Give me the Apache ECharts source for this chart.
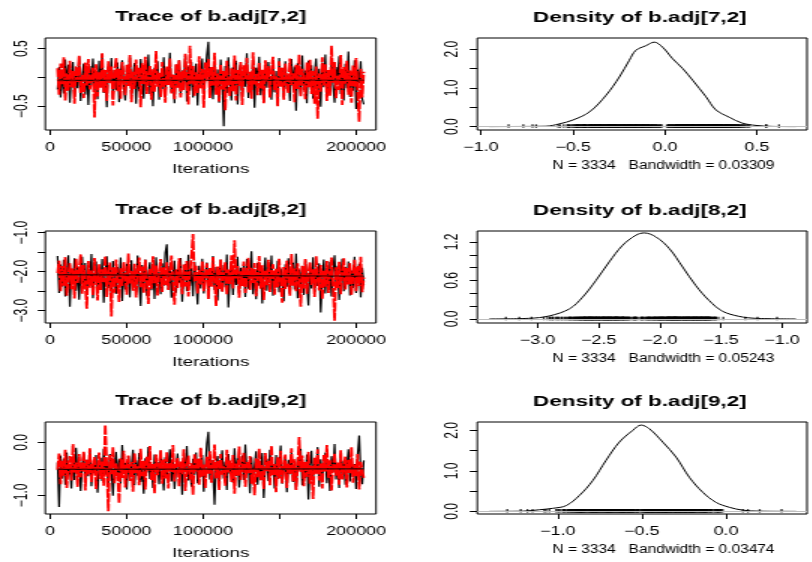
<!DOCTYPE html>
<html>
<head>
<meta charset="utf-8">
<script src="https://cdn.jsdelivr.net/npm/echarts@6/dist/echarts.min.js"></script>
<style>
  html, body { margin: 0; padding: 0; background: #fff; overflow: hidden; }
  #wrap { width: 812px; height: 562px; overflow: hidden; }
  /* the plot is laid out on a narrower canvas and stretched sideways */
  #chart { width: 541.333px; height: 562px; transform: scaleX(1.5); transform-origin: 0 0; }
</style>
</head>
<body>
<div id="wrap"><div id="chart"></div></div>
<script>
// ---- MCMC output: thinned draws of two chains, iterations 5000..205000 ----
const iterStart = 5000;
const iterEnd = 205000;

const black7 = [
  -0.21, 0.18, -0.35, 0.12, -0.28, 0.31, -0.09, 0.22, -0.44, 0.06,
  0.27, -0.33, 0.10, -0.19, 0.36, -0.41, 0.03, 0.24, -0.30, 0.15,
  -0.48, 0.20, -0.13, 0.33, -0.25, 0.08, -0.38, 0.29, -0.16, 0.41,
  -0.27, 0.05, -0.52, 0.19, -0.07, 0.34, -0.36, 0.13, -0.22, 0.26,
  -0.43, 0.09, 0.30, -0.18, -0.40, 0.21, -0.11, 0.37, -0.32, 0.02,
  0.25, -0.46, 0.14, -0.24, 0.32, -0.05, -0.37, 0.23, -0.15, 0.40,
  -0.29, 0.11, -0.50, 0.17, -0.02, 0.28, -0.39, 0.07, -0.20, 0.35,
  -0.34, 0.16, -0.12, 0.43, -0.26, 0.04, -0.45, 0.22, -0.17, 0.30,
  -0.31, 0.12, -0.08, 0.38, -0.42, 0.19, -0.23, 0.27, -0.35, 0.06,
  0.24, -0.49, 0.15, -0.14, 0.33, -0.28, 0.01, 0.39, 0.62, -0.30,
  0.10, -0.38, 0.26, -0.19, 0.14, -0.44, 0.31, -0.06, -0.85, 0.20,
  -0.27, 0.35, -0.10, -0.40, 0.18, -0.21, 0.29, -0.47, 0.09, 0.24,
  -0.33, 0.13, -0.16, 0.42, -0.36, 0.03, -0.25, 0.30, -0.53, 0.17,
  -0.04, 0.36, -0.31, 0.08, -0.43, 0.21, -0.18, 0.27, -0.12, -0.39,
  0.23, -0.26, 0.11, -0.48, 0.34, -0.09, 0.16, -0.35, 0.28, -0.20,
  0.05, -0.41, 0.32, -0.15, 0.19, -0.58, 0.25, -0.03, -0.30, 0.38,
  -0.22, 0.12, -0.45, 0.29, -0.11, 0.21, -0.37, 0.07, 0.33, -0.28,
  0.15, -0.51, 0.26, -0.17, 0.40, -0.32, 0.02, -0.24, 0.31, -0.13,
  -0.44, 0.18, -0.06, 0.37, -0.29, 0.10, -0.40, 0.24, -0.19, 0.45,
  -0.34, 0.08, -0.23, 0.30, -0.55, 0.14, -0.10, 0.28, -0.38, -0.47];
const red7 = [
  0.16, -0.30, 0.24, -0.12, 0.35, -0.40, 0.07, -0.23, 0.29, -0.17,
  0.11, -0.46, 0.20, -0.08, 0.38, -0.27, 0.04, -0.36, 0.26, -0.14,
  0.32, -0.21, -0.05, 0.17, -0.70, 0.23, -0.33, 0.09, -0.18, 0.42,
  -0.26, 0.13, -0.41, 0.28, -0.10, 0.19, -0.49, 0.06, 0.34, -0.24,
  0.15, -0.37, 0.27, -0.02, -0.31, 0.22, -0.15, 0.39, -0.43, 0.10,
  -0.20, 0.31, -0.07, 0.18, -0.52, 0.25, -0.12, 0.36, -0.29, 0.03,
  0.21, -0.39, 0.14, -0.25, 0.46, -0.16, 0.08, -0.34, 0.27, -0.09,
  -0.44, 0.19, -0.13, 0.33, -0.28, 0.05, -0.38, 0.24, -0.18, 0.30,
  -0.35, 0.12, -0.22, 0.41, -0.06, -0.47, 0.55, -0.11, 0.20, -0.32,
  0.09, -0.27, 0.37, -0.19, 0.15, -0.53, 0.26, -0.04, 0.32, -0.36,
  0.18, -0.14, 0.43, -0.30, 0.07, -0.42, 0.23, -0.21, 0.11, -0.57,
  0.29, -0.08, -0.33, 0.16, -0.24, 0.38, -0.40, 0.13, -0.15, 0.27,
  -0.48, 0.21, -0.03, 0.34, -0.26, 0.10, -0.37, 0.44, -0.12, 0.06,
  -0.31, 0.25, -0.19, 0.14, -0.45, 0.30, -0.07, 0.20, -0.35, 0.12,
  0.36, -0.23, 0.02, -0.50, 0.28, -0.16, 0.17, -0.39, 0.24, -0.10,
  -0.28, 0.33, -0.13, 0.08, -0.43, 0.22, -0.20, 0.40, -0.34, 0.15,
  -0.05, -0.38, 0.26, -0.17, 0.31, -0.29, 0.11, -0.46, 0.19, -0.72,
  0.07, -0.25, 0.35, -0.14, 0.23, -0.41, 0.13, -0.32, 0.55, -0.09,
  0.27, -0.36, 0.04, -0.22, 0.39, -0.48, 0.18, -0.11, 0.29, -0.30,
  0.12, -0.44, 0.21, -0.16, 0.34, -0.27, -0.77, 0.16, -0.35, 0.10];

const black8 = [
  -1.60, -2.55, -1.82, -2.38, -1.70, -2.64, -2.02, -1.58, -2.90, -1.93,
  -2.31, -1.66, -2.49, -1.87, -2.72, -2.08, -1.62, -2.44, -1.78, -2.59,
  -1.95, -2.27, -1.55, -2.68, -2.12, -1.74, -2.52, -1.90, -2.35, -1.68,
  -2.80, -2.00, -1.61, -2.42, -1.84, -2.61, -1.73, -2.20, -2.57, -1.88,
  -2.33, -1.64, -2.75, -1.97, -2.46, -1.80, -2.14, -2.66, -1.71, -2.39,
  -1.92, -2.53, -1.59, -2.25, -2.88, -1.83, -2.41, -1.69, -2.62, -2.05,
  -1.76, -2.48, -1.89, -2.70, -1.63, -2.30, -2.01, -2.58, -1.79, -2.36,
  -1.52, -1.30, -2.45, -1.86, -2.67, -2.10, -1.72, -2.54, -1.94, -2.29,
  -1.65, -2.77, -2.03, -1.81, -2.50, -1.57, -2.37, -1.91, -2.63, -1.75,
  -2.22, -2.84, -1.85, -2.43, -1.67, -2.56, -2.07, -1.77, -2.69, -1.96,
  -2.32, -1.60, -2.47, -1.88, -2.74, -2.04, -1.70, -2.51, -1.83, -2.40,
  -1.56, -2.92, -2.15, -1.73, -2.60, -1.98, -2.34, -1.62, -2.55, -1.90,
  -2.26, -1.80, -2.65, -1.68, -2.44, -2.09, -1.48, -2.58, -1.93, -2.71,
  -1.78, -2.36, -1.87, -2.82, -2.06, -1.64, -2.49, -1.84, -2.30, -1.59,
  -2.62, -1.99, -2.41, -1.72, -2.53, -1.92, -2.18, -2.76, -1.81, -2.39,
  -1.66, -2.57, -2.02, -1.77, -2.46, -1.54, -2.68, -1.95, -2.33, -1.86,
  -2.60, -1.71, -2.28, -2.87, -1.89, -2.43, -1.63, -2.52, -1.94, -2.37,
  -1.79, -3.05, -2.21, -1.69, -2.56, -1.91, -2.45, -1.75, -2.64, -2.00,
  -1.58, -2.40, -1.85, -2.73, -2.11, -1.67, -2.50, -1.88, -2.31, -1.74,
  -2.61, -1.97, -2.42, -1.62, -2.55, -2.05, -1.80, -2.66, -1.90, -2.35];
const red8 = [
  -2.04, -1.72, -2.50, -1.86, -2.36, -1.63, -2.62, -2.10, -1.78, -2.45,
  -1.92, -2.69, -1.67, -2.29, -2.00, -1.56, -2.57, -1.83, -2.34, -2.95,
  -1.73, -2.41, -1.97, -2.60, -1.65, -2.21, -2.74, -1.81, -2.47, -1.94,
  -2.27, -1.60, -2.65, -2.06, -1.77, -3.15, -1.88, -2.54, -1.69, -2.20,
  -2.78, -1.90, -2.37, -1.75, -2.13, -2.59, -1.54, -2.31, -1.98, -2.49,
  -1.80, -2.66, -2.02, -1.64, -2.40, -1.87, -2.55, -1.70, -2.24, -2.83,
  -1.93, -2.44, -1.61, -2.30, -1.84, -2.61, -1.99, -1.68, -2.52, -1.89,
  -2.35, -1.76, -2.47, -2.09, -1.59, -2.28, -2.85, -1.95, -2.42, -1.66,
  -2.16, -2.58, -1.82, -2.38, -1.71, -2.64, -2.01, -1.62, -1.04, -2.26,
  -1.85, -2.56, -1.96, -2.33, -1.73, -2.50, -2.08, -1.79, -2.70, -1.91,
  -2.39, -1.63, -2.22, -2.88, -1.87, -2.46, -1.69, -2.53, -2.03, -1.76,
  -2.60, -1.95, -2.32, -1.58, -2.43, -1.20, -2.19, -1.86, -2.67, -1.99,
  -2.37, -1.74, -2.55, -2.05, -1.65, -2.48, -1.90, -2.29, -1.78, -2.63,
  -2.11, -1.60, -2.44, -1.84, -2.73, -1.97, -2.35, -1.70, -2.52, -2.00,
  -1.81, -2.59, -1.93, -2.40, -1.67, -2.25, -2.80, -1.88, -2.45, -1.72,
  -2.14, -2.62, -1.55, -2.36, -1.92, -2.51, -1.79, -2.27, -2.90, -1.85,
  -2.43, -1.68, -2.57, -2.04, -1.76, -2.34, -1.94, -2.65, -1.61, -2.20,
  -2.48, -1.83, -2.71, -1.98, -2.39, -1.73, -2.55, -2.07, -1.64, -2.30,
  -3.26, -1.89, -2.42, -1.75, -2.58, -2.01, -1.66, -2.46, -1.91, -2.33,
  -1.78, -2.61, -2.09, -1.70, -2.50, -1.86, -2.37, -1.62, -2.53, -2.15];

const black9 = [
  -0.38, -1.22, -0.25, -0.68, -0.31, -0.80, -0.19, -0.62, -0.41, -0.87,
  -0.27, -0.71, -0.10, -0.56, -0.35, -0.92, -0.44, -0.21, -0.76, -0.33,
  -0.64, -0.15, -0.83, -0.40, -0.58, -0.24, -0.95, -0.47, -0.29, -0.73,
  -0.12, -0.61, -0.36, -0.85, -0.22, -0.54, -1.01, -0.43, -0.18, -0.67,
  -0.32, -0.78, -0.05, -0.59, -0.39, -0.89, -0.26, -0.70, -0.46, -0.14,
  -0.81, -0.34, -0.63, -0.20, -0.75, -0.48, -0.97, -0.30, -0.57, -0.09,
  -0.69, -0.42, -0.86, -0.23, -0.60, -0.37, -0.79, -0.16, -0.52, -0.91,
  -0.28, -0.66, -0.44, -0.13, -0.74, -0.35, -0.88, -0.50, -0.21, -0.62,
  -0.40, -0.99, -0.27, -0.56, -0.07, -0.72, -0.45, -0.84, -0.31, -0.61,
  -0.19, -0.77, -0.38, -0.65, -0.24, -0.93, -0.49, -0.02, 0.20, -0.70,
  -0.33, -0.58, -1.18, -0.41, -0.26, -0.82, -0.47, -0.15, -0.68, -0.36,
  -0.90, -0.22, -0.59, -0.43, -0.76, -0.11, -0.64, -0.30, -0.85, -0.52,
  -0.25, -0.71, -0.04, -0.57, -0.39, -0.96, -0.28, -0.66, -0.45, -0.17,
  -0.80, -0.35, -0.62, -0.20, -1.05, -0.48, -0.31, -0.73, -0.14, -0.55,
  -0.42, -0.87, -0.24, -0.69, -0.37, -0.06, -0.78, -0.50, -0.27, -0.94,
  -0.33, -0.60, -0.18, -0.75, -0.46, -0.89, -0.29, -0.53, -0.12, -0.81,
  -0.40, -0.67, -0.23, -1.08, -0.44, -0.16, -0.72, -0.36, -0.58, -0.09,
  -0.84, -0.32, -0.63, -0.47, -0.19, -0.77, -0.39, -0.92, -0.26, -0.56,
  -0.03, -0.70, -0.43, -0.86, -0.21, -0.61, -0.35, -0.80, -0.48, -0.13,
  -0.74, -0.30, -0.65, -0.41, -0.88, -0.24, 0.13, -0.57, -0.79, -0.34];
const red9 = [
  -0.52, -0.21, -0.79, -0.35, -0.63, -0.14, -0.86, -0.42, -0.26, -0.72,
  -0.03, -0.57, -0.38, -0.84, -0.22, -0.66, -0.46, -0.17, -0.91, -0.33,
  -0.61, -0.11, -0.75, -0.44, -0.28, -0.88, -0.50, -0.19, -0.69, -0.36,
  -0.82, 0.33, -0.47, -1.30, -0.24, -0.60, -0.09, -0.77, -0.40, -0.55,
  -1.15, -0.30, -0.67, -0.16, -0.85, -0.43, -0.25, -0.73, -0.37, -0.93,
  -0.20, -0.58, -0.45, -0.81, -0.12, -0.64, -0.34, -0.89, -0.27, -0.53,
  -0.07, -0.71, -0.41, -0.96, -0.23, -0.62, -0.48, -0.15, -0.78, -0.32,
  -0.68, -0.18, -0.87, -0.39, -0.56, -0.05, -0.74, -0.44, -0.29, -0.83,
  -0.36, -0.60, -0.13, -0.92, -0.47, -0.25, -0.70, -0.38, -0.99, -0.21,
  -0.55, -0.31, -0.80, -0.10, -0.65, -0.42, -0.86, -0.27, -0.59, -0.17,
  -0.76, -0.49, -0.04, -0.68, -0.35, -0.90, -0.22, -0.61, -0.45, -0.82,
  -0.14, -0.57, -0.33, -0.75, -0.24, -0.97, -0.40, -0.63, -0.08, -0.71,
  -0.46, -0.19, -0.84, -0.37, -0.58, -0.26, -0.79, -0.51, -1.00, -0.30,
  -0.66, -0.12, -0.73, -0.43, -0.88, -0.20, -0.54, -0.35, -0.81, -0.06,
  -0.62, -0.41, -0.94, -0.28, -0.69, -0.16, -0.77, -0.48, -0.23, -0.86,
  -0.39, -0.60, -0.11, -0.74, -0.32, -0.90, -0.47, 0.10, -0.56, -0.25,
  -0.83, -0.36, -0.65, -0.18, -0.78, -0.44, -1.07, -0.29, -0.59, -0.13,
  -0.72, -0.40, -0.87, -0.24, -0.55, -0.05, -0.67, -0.34, -0.91, -0.46,
  -0.20, -0.63, -0.38, -0.80, -0.15, -0.70, -0.49, -0.27, -0.85, -0.33,
  -0.58, -0.09, -0.76, -0.42, -0.64, -0.22, -0.89, -0.37, -0.53, -0.68];

// smoothed running level of each chain at the first and last iteration
const smoothBlack7 = [-0.05, -0.05];
const smoothRed7 = [-0.06, -0.05];
const smoothBlack8 = [-2.08, -2.12];
const smoothRed8 = [-2.09, -2.13];
const smoothBlack9 = [-0.51, -0.50];
const smoothRed9 = [-0.50, -0.51];

// ---- kernel density estimates (x grid and density) ----
const dens7X = [-0.955, -0.80, -0.647, -0.574, -0.50, -0.41, -0.32, -0.248, -0.194, -0.158, -0.103, -0.058, -0.013, 0.042, 0.096, 0.15, 0.223, 0.277, 0.35, 0.42, 0.495, 0.585, 0.712];
const dens7Y = [0, 0.003, 0.01, 0.07, 0.17, 0.38, 0.81, 1.28, 1.71, 1.97, 2.09, 2.18, 2.05, 1.75, 1.50, 1.20, 0.77, 0.43, 0.24, 0.09, 0.03, 0.005, 0];
const dens8X = [-3.396, -3.07, -2.905, -2.74, -2.632, -2.523, -2.414, -2.304, -2.196, -2.128, -2.032, -1.923, -1.813, -1.705, -1.596, -1.486, -1.35, -1.214, -0.886];
const dens8Y = [0, 0.01, 0.047, 0.157, 0.34, 0.60, 0.89, 1.15, 1.306, 1.342, 1.28, 1.10, 0.81, 0.52, 0.287, 0.12, 0.04, 0.01, 0];
const dens9X = [-1.406, -1.208, -1.109, -1.03, -0.951, -0.872, -0.792, -0.713, -0.634, -0.554, -0.505, -0.456, -0.376, -0.297, -0.218, -0.138, -0.059, 0.02, 0.099, 0.198, 0.416];
const dens9Y = [0, 0.005, 0.04, 0.075, 0.14, 0.39, 0.76, 1.26, 1.71, 2.0, 2.13, 2.04, 1.71, 1.34, 0.84, 0.47, 0.22, 0.10, 0.03, 0.005, 0];

// ---- axis ticks and labels ----
const traceXTicks = [0, 50000, 100000, 150000, 200000];
const traceXLabels = [0, 50000, 100000, 200000];
const trace7YTicks = [-0.5, 0, 0.5];
const trace7YLabels = [-0.5, 0.5];
const trace8YTicks = [-3, -2.5, -2, -1.5, -1];
const trace8YLabels = [-3, -2, -1];
const trace9YTicks = [-1, -0.5, 0];
const trace9YLabels = [-1, 0];
const dens7XTicks = [-1, -0.5, 0, 0.5];
const dens8XTicks = [-3, -2.5, -2, -1.5, -1];
const dens9XTicks = [-1, -0.5, 0];
const dens7YTicks = [0, 0.5, 1, 1.5, 2];
const dens7YLabels = [0, 1, 2];
const dens8YTicks = [0, 0.2, 0.4, 0.6, 0.8, 1.0, 1.2];
const dens8YLabels = [0, 0.6, 1.2];
const dens9YTicks = [0, 0.5, 1, 1.5, 2];
const dens9YLabels = [0, 1, 2];

const sampleSize = 3334;
const bandwidths = ['0.03309', '0.05243', '0.03474'];
const paramNames = ['b.adj[7,2]', 'b.adj[8,2]', 'b.adj[9,2]'];

// ---- layout (in the unstretched coordinate frame) ----
const FONT = '"Liberation Sans", Arial, Helvetica, sans-serif';
const SX = 1.5;
const rowTops = [38, 231, 422];
const boxH = 92;
const traceLeft = 30.2, traceW = 220.5;
const densLeft = 318.2, densW = 219.8;

const panels = [
  { black: black7, red: red7, smB: smoothBlack7, smR: smoothRed7,
    yMin: -0.916, yMax: 0.687, yTicks: trace7YTicks, yLabels: trace7YLabels,
    dX: dens7X, dY: dens7Y, dxMin: -1.02, dxMax: 0.772, dxTicks: dens7XTicks,
    dyMin: -0.088, dyMax: 2.287, dyTicks: dens7YTicks, dyLabels: dens7YLabels },
  { black: black8, red: red8, smB: smoothBlack8, smR: smoothRed8,
    yMin: -3.317, yMax: -0.96, yTicks: trace8YTicks, yLabels: trace8YLabels,
    dX: dens8X, dY: dens8Y, dxMin: -3.494, dxMax: -0.795, dxTicks: dens8XTicks,
    dyMin: -0.063, dyMax: 1.372, dyTicks: dens8YTicks, dyLabels: dens8YLabels },
  { black: black9, red: red9, smB: smoothBlack9, smR: smoothRed9,
    yMin: -1.353, yMax: 0.385, yTicks: trace9YTicks, yLabels: trace9YLabels,
    dX: dens9X, dY: dens9Y, dxMin: -1.478, dxMax: 0.481, dxTicks: dens9XTicks,
    dyMin: -0.065, dyMax: 2.206, dyTicks: dens9YTicks, dyLabels: dens9YLabels }
];

function fmt1(v) {
  const s = Math.abs(v).toFixed(1);
  return v < 0 ? '\u2212' + s : s;
}
function iterPairs(vals) {
  const step = (iterEnd - iterStart) / (vals.length - 1);
  return vals.map((v, i) => [iterStart + i * step, v]);
}

const tickStyle = { lineStyle: { color: '#000', width: 1 } };
const labelBase = { color: '#000', fontFamily: FONT, fontSize: 12 };
const noLine = { show: false, onZero: false };

const grids = [], xAxes = [], yAxes = [], series = [], graphic = [];

panels.forEach((p, r) => {
  const top = rowTops[r];
  // trace panel
  const gt = grids.length;
  grids.push({ left: traceLeft, top: top, width: traceW, height: boxH, show: true,
    borderColor: '#000', borderWidth: 1, backgroundColor: 'transparent', containLabel: false });
  xAxes.push({ gridIndex: gt, type: 'value', min: -3000, max: 213000,
    axisLine: noLine, splitLine: { show: false },
    axisTick: Object.assign({ show: true, length: 5, customValues: traceXTicks }, tickStyle),
    axisLabel: Object.assign({ customValues: traceXLabels, margin: 12, formatter: v => String(v) }, labelBase) });
  yAxes.push({ gridIndex: gt, type: 'value', min: p.yMin, max: p.yMax,
    axisLine: noLine, splitLine: { show: false },
    axisTick: Object.assign({ show: true, length: 5, customValues: p.yTicks }, tickStyle),
    axisLabel: Object.assign({ customValues: p.yLabels, rotate: 90, margin: 9.5, formatter: fmt1 }, labelBase) });
  series.push({ type: 'line', xAxisIndex: gt, yAxisIndex: gt, data: iterPairs(p.black),
    symbol: 'none', lineStyle: { color: '#000', width: 1.2 }, z: 2 });
  series.push({ type: 'line', xAxisIndex: gt, yAxisIndex: gt, data: iterPairs(p.red),
    symbol: 'none', lineStyle: { color: '#ff0000', width: 1.8, type: [9, 1.5] }, z: 3 });
  series.push({ type: 'line', xAxisIndex: gt, yAxisIndex: gt, data: iterPairs(p.smB),
    symbol: 'none', lineStyle: { color: '#000', width: 1 }, z: 4 });
  series.push({ type: 'line', xAxisIndex: gt, yAxisIndex: gt, data: iterPairs(p.smR),
    symbol: 'none', lineStyle: { color: '#aa0000', width: 1, type: [4, 4] }, z: 5 });

  // density panel
  const gd = grids.length;
  grids.push({ left: densLeft, top: top, width: densW, height: boxH, show: true,
    borderColor: '#000', borderWidth: 1, backgroundColor: 'transparent', containLabel: false });
  xAxes.push({ gridIndex: gd, type: 'value', min: p.dxMin, max: p.dxMax,
    axisLine: noLine, splitLine: { show: false },
    axisTick: Object.assign({ show: true, length: 5, customValues: p.dxTicks }, tickStyle),
    axisLabel: Object.assign({ customValues: p.dxTicks, margin: 12, formatter: fmt1 }, labelBase) });
  yAxes.push({ gridIndex: gd, type: 'value', min: p.dyMin, max: p.dyMax,
    axisLine: noLine, splitLine: { show: false },
    axisTick: Object.assign({ show: true, length: 5, customValues: p.dyTicks }, tickStyle),
    axisLabel: Object.assign({ customValues: p.dyLabels, rotate: 90, margin: 10.5, formatter: fmt1 }, labelBase) });
  series.push({ type: 'line', xAxisIndex: gd, yAxisIndex: gd,
    data: p.dX.map((x, i) => [x, p.dY[i]]), smooth: 0.35,
    symbol: 'none', lineStyle: { color: '#000', width: 1 }, z: 2,
    markLine: { silent: true, symbol: ['none', 'none'], label: { show: false },
      lineStyle: { color: '#bebebe', type: 'solid', width: 1 }, data: [{ yAxis: 0 }], animation: false } });
  series.push({ type: 'scatter', xAxisIndex: gd, yAxisIndex: gd,
    data: p.black.concat(p.red).map(v => [v, 0]),
    symbol: 'rect', symbolSize: [1.3, 3.5], symbolOffset: [0, -0.5], itemStyle: { color: '#000' }, z: 4 });

  // titles and axis captions
  graphic.push({ type: 'text', x: traceLeft + traceW / 2, y: top - 21,
    style: { text: 'Trace of ' + paramNames[r], font: 'bold 15px ' + FONT, fill: '#000', align: 'center', verticalAlign: 'middle' } });
  graphic.push({ type: 'text', x: densLeft + densW / 2 - 1.5, y: top - 20.5,
    style: { text: 'Density of ' + paramNames[r], font: 'bold 15px ' + FONT, fill: '#000', align: 'center', verticalAlign: 'middle' } });
  graphic.push({ type: 'text', x: traceLeft + traceW / 2, y: top + boxH + 40,
    style: { text: 'Iterations', font: '12.5px ' + FONT, fill: '#000', align: 'center', verticalAlign: 'middle' } });
  graphic.push({ type: 'text', x: 663.5 / SX, y: top + boxH + 36, scaleX: 0.86,
    style: { text: 'N = ' + sampleSize + '   Bandwidth = ' + bandwidths[r], font: '12px ' + FONT, fill: '#000', align: 'center', verticalAlign: 'middle' } });
});

const chart = echarts.init(document.getElementById('chart'), null, { renderer: 'canvas' });
chart.setOption({
  animation: false,
  backgroundColor: '#fff',
  grid: grids,
  xAxis: xAxes,
  yAxis: yAxes,
  series: series,
  graphic: graphic
});
</script>
</body>
</html>
